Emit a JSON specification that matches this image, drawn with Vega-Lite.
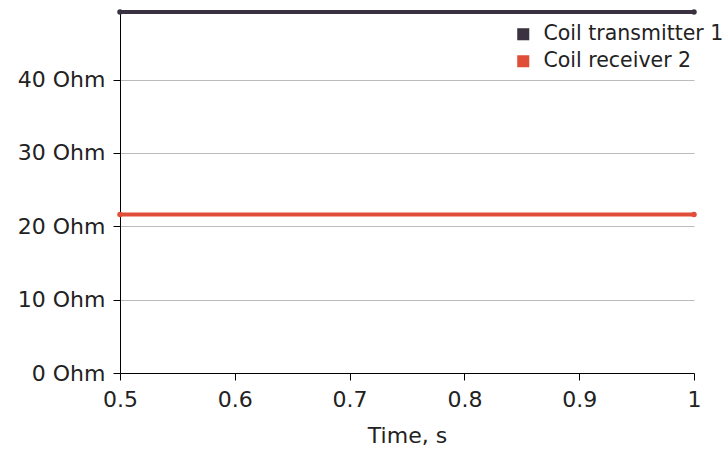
{
  "$schema": "https://vega.github.io/schema/vega-lite/v6.json",
  "width": 574,
  "height": 361,
  "autosize": "none",
  "padding": {"left": 120, "top": 12, "right": 32, "bottom": 82},
  "background": "white",
  "config": {
    "font": "DejaVu Sans",
    "view": {"stroke": null}
  },
  "data": {
    "values": [
      {"time": 0.5, "ohm": 49.2, "series": "Coil transmitter 1"},
      {"time": 1.0, "ohm": 49.2, "series": "Coil transmitter 1"},
      {"time": 0.5, "ohm": 21.6, "series": "Coil receiver 2"},
      {"time": 1.0, "ohm": 21.6, "series": "Coil receiver 2"}
    ]
  },
  "encoding": {
    "x": {
      "field": "time",
      "type": "quantitative",
      "scale": {"domain": [0.5, 1], "nice": false},
      "axis": {
        "title": "Time, s",
        "values": [0.5, 0.6, 0.7, 0.8, 0.9, 1],
        "format": "~g",
        "grid": false,
        "labelFlush": false,
        "domainColor": "#000000",
        "tickColor": "#000000",
        "tickSize": 7,
        "labelFontSize": 22,
        "labelColor": "#222222",
        "labelPadding": 9,
        "titleFontSize": 22,
        "titleFontWeight": "normal",
        "titleColor": "#222222",
        "titlePadding": 15
      }
    },
    "y": {
      "field": "ohm",
      "type": "quantitative",
      "scale": {"domain": [0, 49.2], "nice": false},
      "axis": {
        "title": null,
        "values": [0, 10, 20, 30, 40],
        "labelExpr": "datum.value + ' Ohm'",
        "gridColor": "#bbbbbb",
        "domainColor": "#000000",
        "tickColor": "#000000",
        "tickSize": 7,
        "labelFontSize": 22,
        "labelColor": "#222222",
        "labelPadding": 8
      }
    },
    "color": {
      "field": "series",
      "type": "nominal",
      "scale": {
        "domain": ["Coil transmitter 1", "Coil receiver 2"],
        "range": ["#3a3240", "#e04e39"]
      },
      "legend": {
        "title": null,
        "orient": "none",
        "legendX": 393,
        "legendY": 12,
        "symbolType": "square",
        "symbolSize": 145,
        "symbolStrokeWidth": 0,
        "symbolOpacity": 1,
        "labelFontSize": 20.5,
        "labelLimit": 300,
        "labelColor": "#222222",
        "rowPadding": 6,
        "labelOffset": 10
      }
    }
  },
  "layer": [
    {"mark": {"type": "line", "strokeWidth": 3.8}},
    {"mark": {"type": "circle", "size": 30, "opacity": 1}}
  ]
}
